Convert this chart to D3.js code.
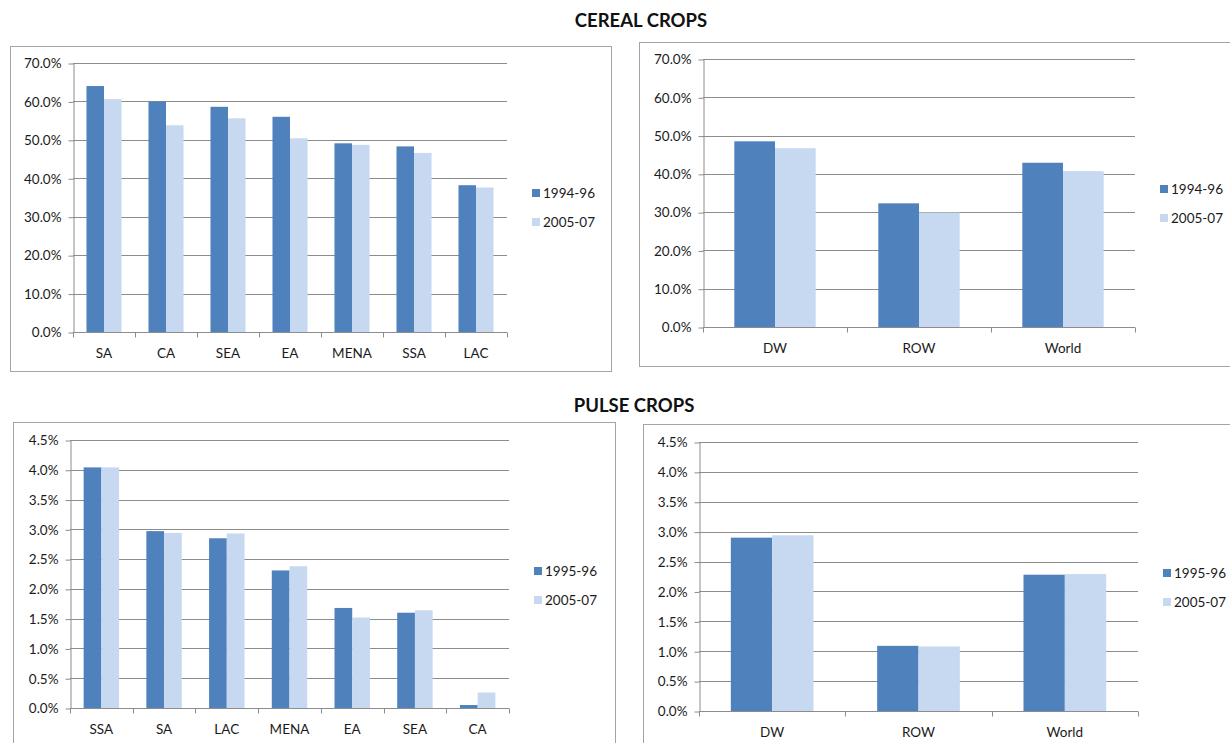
<!DOCTYPE html>
<html lang="en">
<head>
  <meta charset="UTF-8" />
  <title>Cereal and Pulse Crops</title>
  <script src="https://d3js.org/d3.v7.min.js"></script>
  <style>
    body {margin: 0; background: #fff;
          font-family: Lato, "Open Sans", sans-serif;}
    svg {display: block;}
  </style>
</head>
<body>
<script>
  // ****DATA****
  const cerealRegions = ["SA", "CA", "SEA", "EA", "MENA", "SSA", "LAC"];
  const cerealRegions9496 = [64.0, 60.0, 58.6, 56.0, 49.1, 48.3, 38.2];
  const cerealRegions0507 = [60.6, 53.8, 55.6, 50.4, 48.7, 46.6, 37.6];

  const worldGroups = ["DW", "ROW", "World"];
  const cerealGroups9496 = [48.5, 32.3, 42.9];
  const cerealGroups0507 = [46.7, 29.9, 40.7];

  const pulseRegions = ["SSA", "SA", "LAC", "MENA", "EA", "SEA", "CA"];
  const pulseRegions9596 = [4.04, 2.97, 2.85, 2.31, 1.68, 1.60, 0.05];
  const pulseRegions0507 = [4.04, 2.94, 2.93, 2.38, 1.52, 1.64, 0.26];

  const pulseGroups9596 = [2.90, 1.09, 2.28];
  const pulseGroups0507 = [2.94, 1.08, 2.29];

  const cerealSeries = ["1994-96", "2005-07"];
  const pulseSeries = ["1995-96", "2005-07"];

  const cerealTicks = [0, 10, 20, 30, 40, 50, 60, 70];
  const pulseTicks = [0, 0.5, 1, 1.5, 2, 2.5, 3, 3.5, 4, 4.5];

  const titles = ["CEREAL CROPS", "PULSE CROPS"];

  //****CREATE THE SVG CANVAS****
  const width = 1230;
  const height = 743;
  const colors = ["#4f81bd", "#c6d9f1"];
  const fontSize = "13.5px";

  const svg = d3.select("body")
                .append("svg")
                .attr("width", width)
                .attr("height", height);

  svg.append("text")
     .attr("x", 641).attr("y", 27)
     .attr("text-anchor", "middle")
     .attr("font-size", "18.5px").attr("font-weight", "bold")
     .attr("fill", "#111")
     .text(titles[0]);

  svg.append("text")
     .attr("x", 634).attr("y", 412)
     .attr("text-anchor", "middle")
     .attr("font-size", "18.5px").attr("font-weight", "bold")
     .attr("fill", "#111")
     .text(titles[1]);

  //****ONE PANEL****
  function drawPanel(p) {
    const g = svg.append("g");

    // frame
    g.append("rect")
     .attr("x", p.frame[0] + 0.5).attr("y", p.frame[1] + 0.5)
     .attr("width", p.frame[2] - p.frame[0]).attr("height", p.frame[3] - p.frame[1])
     .attr("fill", "none").attr("stroke", "#a5a5a5");

    const xScale = d3.scaleBand()
                     .domain(p.categories)
                     .range([p.left, p.right]);

    const sub = d3.scaleBand()
                  .domain(p.series)
                  .range([0, xScale.bandwidth()])
                  .paddingOuter(0.77);

    const yScale = d3.scaleLinear()
                     .domain([0, p.ticks[p.ticks.length - 1]])
                     .range([p.bottom, p.top]);

    // gridlines
    g.selectAll(".grid")
     .data(p.ticks.slice(1))
     .join("line")
     .attr("x1", p.left).attr("x2", p.right)
     .attr("y1", (d) => Math.round(yScale(d)) + 0.5)
     .attr("y2", (d) => Math.round(yScale(d)) + 0.5)
     .attr("stroke", "#8c8c8c");

    // bars
    const rows = p.categories.map((c, i) => ({cat: c, vals: [p.values[0][i], p.values[1][i]]}));
    const groups = g.selectAll(".cat")
                    .data(rows)
                    .join("g")
                    .attr("transform", (d) => `translate(${xScale(d.cat)},0)`);

    groups.selectAll("rect")
          .data((d) => d.vals.map((v, k) => ({s: p.series[k], v: v, k: k})))
          .join("rect")
          .attr("x", (d) => sub(d.s))
          .attr("width", sub.bandwidth())
          .attr("y", (d) => yScale(d.v))
          .attr("height", (d) => p.bottom - yScale(d.v))
          .attr("fill", (d) => colors[d.k]);

    // y axis
    const yAxis = d3.axisLeft(yScale)
                    .tickValues(p.ticks)
                    .tickFormat(p.format)
                    .tickSize(5)
                    .tickSizeOuter(0)
                    .tickPadding(7);

    const ya = g.append("g")
                .attr("transform", `translate(${p.left + 0.5},0.5)`)
                .call(yAxis);
    ya.selectAll("line, path").attr("stroke", "#8c8c8c");
    ya.selectAll("text").attr("font-size", fontSize).attr("fill", "#1a1a1a")
      .attr("font-family", "Lato, sans-serif");

    // x axis: ticks at band edges
    const xa = g.append("g").attr("transform", `translate(0,${p.bottom + 0.5})`);
    xa.append("line")
      .attr("x1", p.left).attr("x2", p.right)
      .attr("stroke", "#8c8c8c");
    const edges = p.categories.map((c) => xScale(c)).concat([p.right]);
    xa.selectAll(".tk")
      .data(edges)
      .join("line")
      .attr("x1", (d) => Math.round(d) + 0.5).attr("x2", (d) => Math.round(d) + 0.5)
      .attr("y1", 0).attr("y2", 5)
      .attr("stroke", "#8c8c8c");
    xa.selectAll(".lbl")
      .data(p.categories)
      .join("text")
      .attr("x", (d) => xScale(d) + xScale.bandwidth() / 2)
      .attr("y", 25)
      .attr("text-anchor", "middle")
      .attr("font-size", fontSize)
      .attr("fill", "#1a1a1a")
      .text((d) => d);

    // legend
    const legend = g.append("g").attr("transform", `translate(${p.legend[0]},${p.legend[1]})`);
    const items = legend.selectAll("g")
                        .data(p.series)
                        .join("g")
                        .attr("transform", (d, i) => `translate(0,${i * 29})`);
    items.append("rect")
         .attr("x", 0).attr("y", -4)
         .attr("width", 8).attr("height", 8)
         .attr("fill", (d, i) => colors[i]);
    items.append("text")
         .attr("x", 11).attr("y", 5)
         .attr("font-size", fontSize)
         .attr("fill", "#1a1a1a")
         .text((d) => d);
  }

  const pct1 = (d) => d3.format(".1f")(d) + "%";

  drawPanel({frame: [10, 46, 611, 371], left: 73, right: 507, top: 63, bottom: 332,
             categories: cerealRegions, series: cerealSeries,
             values: [cerealRegions9496, cerealRegions0507],
             ticks: cerealTicks, format: pct1, legend: [532, 193]});

  drawPanel({frame: [639, 42, 1240, 366], left: 703, right: 1135, top: 59, bottom: 327,
             categories: worldGroups, series: cerealSeries,
             values: [cerealGroups9496, cerealGroups0507],
             ticks: cerealTicks, format: pct1, legend: [1160, 189]});

  drawPanel({frame: [13, 422, 615, 760], left: 70, right: 509, top: 440, bottom: 708,
             categories: pulseRegions, series: pulseSeries,
             values: [pulseRegions9596, pulseRegions0507],
             ticks: pulseTicks, format: pct1, legend: [534, 571]});

  drawPanel({frame: [643, 424, 1240, 760], left: 699, right: 1138, top: 442, bottom: 711,
             categories: worldGroups, series: pulseSeries,
             values: [pulseGroups9596, pulseGroups0507],
             ticks: pulseTicks, format: pct1, legend: [1163, 573]});
</script>
</body>
</html>
